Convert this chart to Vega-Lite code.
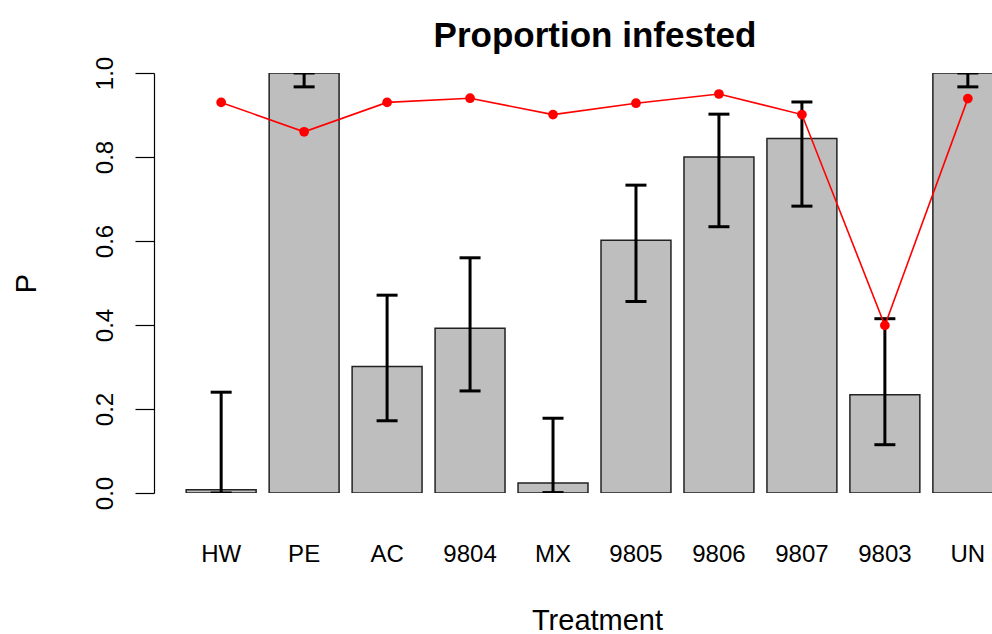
{
  "$schema": "https://vega.github.io/schema/vega-lite/v6.json",
  "autosize": {"type": "none"},
  "padding": {"left": 154, "top": 73, "right": 0, "bottom": 141},
  "width": 838,
  "height": 420,
  "background": "white",
  "title": {
    "text": "Proportion infested",
    "font": "Liberation Sans",
    "fontSize": 35,
    "fontWeight": "bold",
    "color": "black",
    "anchor": "middle",
    "dx": 22,
    "baseline": "alphabetic",
    "offset": -26
  },
  "config": {
    "view": {"stroke": null},
    "axis": {"labelFont": "Liberation Sans", "titleFont": "Liberation Sans", "labelColor": "black", "titleColor": "black", "titleFontWeight": "normal"}
  },
  "data": {
    "values": [
      {"treatment": "HW", "p": 0.008, "lower": 0.0, "upper": 0.240, "infested": 0.930},
      {"treatment": "PE", "p": 1.0, "lower": 0.967, "upper": 1.0, "infested": 0.860},
      {"treatment": "AC", "p": 0.301, "lower": 0.172, "upper": 0.471, "infested": 0.930},
      {"treatment": "9804", "p": 0.392, "lower": 0.243, "upper": 0.560, "infested": 0.940},
      {"treatment": "MX", "p": 0.024, "lower": 0.001, "upper": 0.178, "infested": 0.901},
      {"treatment": "9805", "p": 0.602, "lower": 0.456, "upper": 0.733, "infested": 0.928},
      {"treatment": "9806", "p": 0.800, "lower": 0.634, "upper": 0.902, "infested": 0.950},
      {"treatment": "9807", "p": 0.844, "lower": 0.683, "upper": 0.931, "infested": 0.901},
      {"treatment": "9803", "p": 0.234, "lower": 0.115, "upper": 0.415, "infested": 0.399},
      {"treatment": "UN", "p": 1.0, "lower": 0.967, "upper": 1.0, "infested": 0.939}
    ]
  },
  "encoding": {
    "x": {
      "field": "treatment",
      "type": "nominal",
      "sort": null,
      "scale": {"type": "band", "range": [0, 881], "paddingInner": 0.157, "paddingOuter": 0.388},
      "axis": {
        "title": "Treatment",
        "titleFontSize": 29,
        "titleX": 443,
        "titleY": 136,
        "titleBaseline": "alphabetic",
        "titleAlign": "center",
        "labelFontSize": 24,
        "labelAngle": 0,
        "labelBaseline": "alphabetic",
        "labelPadding": 68,
        "ticks": false,
        "tickSize": 0,
        "domain": false,
        "labelOverlap": false,
        "labelBound": false,
        "labelFlush": false
      }
    }
  },
  "layer": [
    {
      "mark": {"type": "bar", "fill": "#BEBEBE", "stroke": "#222222", "strokeWidth": 1.5, "clip": true},
      "encoding": {
        "y": {
          "field": "p",
          "type": "quantitative",
          "scale": {"domain": [0, 1], "nice": false, "zero": true},
          "axis": {
            "title": "P",
            "titleFontSize": 29,
            "titleX": -119,
            "titleY": 210,
            "titleAngle": 270,
            "titleBaseline": "alphabetic",
            "titleAlign": "center",
            "values": [0, 0.2, 0.4, 0.6, 0.8, 1.0],
            "format": ".1f",
            "labelFontSize": 24,
            "labelAngle": 270,
            "labelAlign": "center",
            "labelBaseline": "alphabetic",
            "labelPadding": 23,
            "tickSize": 19,
            "tickColor": "black",
            "tickWidth": 1.2,
            "domainColor": "black",
            "domainWidth": 1.2,
            "grid": false
          }
        }
      }
    },
    {
      "mark": {"type": "rule", "color": "black", "strokeWidth": 3, "clip": true},
      "encoding": {
        "y": {"field": "lower", "type": "quantitative"},
        "y2": {"field": "upper"}
      }
    },
    {
      "mark": {"type": "tick", "color": "black", "size": 21, "thickness": 3, "opacity": 1, "clip": true},
      "encoding": {"y": {"field": "lower", "type": "quantitative"}}
    },
    {
      "mark": {"type": "tick", "color": "black", "size": 21, "thickness": 3, "opacity": 1, "clip": true},
      "encoding": {"y": {"field": "upper", "type": "quantitative"}}
    },
    {
      "mark": {"type": "line", "color": "#FF0000", "strokeWidth": 1.6, "clip": true},
      "encoding": {"y": {"field": "infested", "type": "quantitative"}}
    },
    {
      "mark": {"type": "point", "shape": "circle", "filled": true, "color": "#FF0000", "size": 95, "opacity": 1, "clip": true},
      "encoding": {"y": {"field": "infested", "type": "quantitative"}}
    }
  ]
}
